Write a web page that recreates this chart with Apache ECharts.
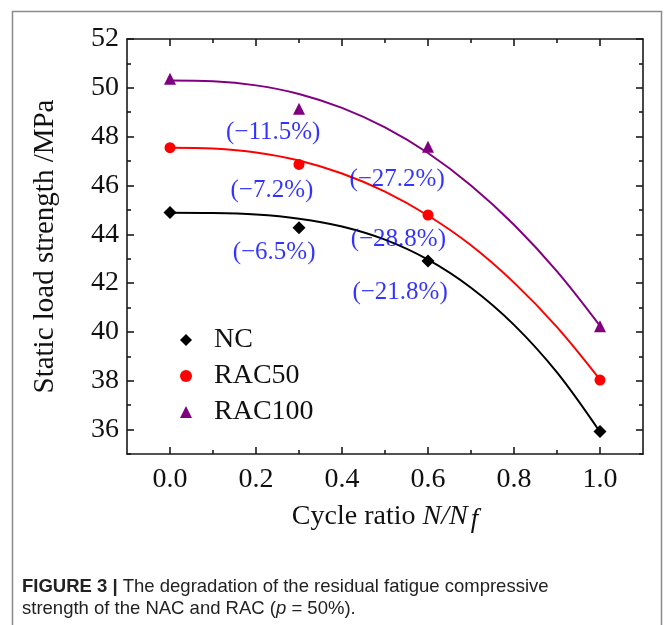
<!DOCTYPE html>
<html>
<head>
<meta charset="utf-8">
<script src="https://cdn.jsdelivr.net/npm/echarts@6/dist/echarts.min.js"></script>
<style>
html,body{margin:0;padding:0;background:#fff;}
#chart{width:665px;height:625px;}
</style>
</head>
<body>
<div id="chart"></div>
<script>
// ---- data ----
const seriesNames = ['NC', 'RAC50', 'RAC100'];
const pointX = [0, 0.3, 0.6, 1.0];
const ncPoints = [44.89, 44.27, 42.91, 35.92];
const rac50Points = [47.55, 46.86, 44.79, 38.03];
const rac100Points = [50.37, 49.14, 47.59, 40.23];

// fitted curves
const curveX = [0, 0.1, 0.2, 0.3, 0.4, 0.5, 0.6, 0.7, 0.8, 0.9, 1.0];
const ncCurve = [44.88, 44.87, 44.81, 44.64, 44.32, 43.78, 42.96, 41.81, 40.29, 38.34, 35.90];
const rac50Curve = [47.55, 47.51, 47.35, 47.02, 46.49, 45.75, 44.77, 43.55, 42.02, 40.20, 38.05];
const rac100Curve = [50.30, 50.27, 50.10, 49.75, 49.18, 48.38, 47.33, 46.00, 44.39, 42.48, 40.25];

// annotations
const annotText = ['(\u221211.5%)', '(\u22127.2%)', '(\u22126.5%)', '(\u221227.2%)', '(\u221228.8%)', '(\u221221.8%)'];
const annotX = [0.24, 0.237, 0.242, 0.528, 0.531, 0.535];
const annotY = [48.17, 45.80, 43.26, 46.25, 43.77, 41.62];

// ticks
const xTicks = [0, 0.2, 0.4, 0.6, 0.8, 1.0];
const xMinorTicks = [0.1, 0.3, 0.5, 0.7, 0.9];
const yTicks = [36, 38, 40, 42, 44, 46, 48, 50, 52];
const yMinorTicks = [35, 37, 39, 41, 43, 45, 47, 49, 51];

const xTitle = 'Cycle ratio ';
const yTitle = 'Static load strength /MPa';
const captionBold = 'FIGURE 3 |';
const captionRest1 = ' The degradation of the residual fatigue compressive';
const captionRest2a = 'strength of the NAC and RAC (';
const captionRest2b = ' = 50%).';

// ---- styles ----
const serif = 'Liberation Serif';
const colors = ['#000000', '#ff0000', '#800080'];
const symbols = ['diamond', 'circle', 'triangle'];
const symbolSizes = [13, 11, 12];
const axisColor = '#1a1a1a';

const chart = echarts.init(document.getElementById('chart'), null, {renderer: 'canvas'});

function xAxisDef(pos, ticks, len, showLabel, showLine) {
  return {
    type: 'value', position: pos, min: -0.1, max: 1.1,
    axisLine: {show: showLine, onZero: false, lineStyle: {color: axisColor, width: 1.6}},
    axisTick: {show: true, inside: true, length: len, customValues: ticks, lineStyle: {color: axisColor, width: 1.6}},
    axisLabel: showLabel ? {show: true, customValues: ticks, margin: 12, fontFamily: serif, fontSize: 28, color: '#111',
      formatter: v => v.toFixed(1)} : {show: false},
    splitLine: {show: false}
  };
}
function yAxisDef(pos, ticks, len, showLabel, showLine) {
  return {
    type: 'value', position: pos, min: 35, max: 52,
    axisLine: {show: showLine, onZero: false, lineStyle: {color: axisColor, width: 1.6}},
    axisTick: {show: true, inside: true, length: len, customValues: ticks, lineStyle: {color: axisColor, width: 1.6}},
    axisLabel: showLabel ? {show: true, customValues: ticks, margin: 8, fontFamily: serif, fontSize: 28, color: '#111'} : {show: false},
    splitLine: {show: false}
  };
}

const xAxes = [
  xAxisDef('bottom', xTicks, 7, true, true),
  xAxisDef('bottom', xMinorTicks, 4, false, false),
  xAxisDef('top', xTicks, 7, false, true),
  xAxisDef('top', xMinorTicks, 4, false, false)
];
xAxes[0].name = xTitle + '{i|N/N}{s|f}';
xAxes[0].nameLocation = 'middle';
xAxes[0].nameGap = 46;
xAxes[0].nameTextStyle = {fontFamily: serif, fontSize: 28, color: '#111',
  rich: {i: {fontFamily: serif, fontStyle: 'italic', fontSize: 28, color: '#111'},
         s: {fontFamily: serif, fontStyle: 'italic', fontSize: 27, color: '#111', padding: [6, 0, 0, 3]}}};

const yAxes = [
  yAxisDef('left', yTicks, 7, true, true),
  yAxisDef('left', yMinorTicks, 4, false, false),
  yAxisDef('right', yTicks, 7, false, true),
  yAxisDef('right', yMinorTicks, 4, false, false)
];
yAxes[0].name = yTitle;
yAxes[0].nameLocation = 'middle';
yAxes[0].nameGap = 67;
yAxes[0].nameTextStyle = {fontFamily: serif, fontSize: 29, color: '#111'};

const curves = [ncCurve, rac50Curve, rac100Curve];
const points = [ncPoints, rac50Points, rac100Points];

const series = [];
curves.forEach((c, i) => {
  series.push({
    name: seriesNames[i] + '_fit', type: 'line', smooth: 0.35, showSymbol: false, silent: true,
    data: curveX.map((x, k) => [x, c[k]]),
    lineStyle: {color: colors[i], width: 2}, z: 2
  });
});
points.forEach((p, i) => {
  series.push({
    name: seriesNames[i], type: 'scatter', symbol: symbols[i], symbolSize: symbolSizes[i],
    data: pointX.map((x, k) => [x, p[k]]),
    itemStyle: {color: colors[i], opacity: 1}, z: 3
  });
});
series.push({
  name: 'annot', type: 'scatter', symbol: 'circle', symbolSize: 1, silent: true,
  itemStyle: {color: 'rgba(0,0,0,0)'},
  data: annotX.map((x, k) => [x, annotY[k], annotText[k]]),
  label: {show: true, position: 'inside', formatter: p => p.data[2], fontFamily: serif, fontSize: 25, color: '#0000ff'},
  z: 4
});

const option = {
  backgroundColor: '#ffffff',
  animation: false,
  grid: {left: 127, top: 39, right: 22, bottom: 171, containLabel: false},
  xAxis: xAxes,
  yAxis: yAxes,
  legend: {
    orient: 'vertical', left: 175, top: 321,
    itemWidth: 12, itemHeight: 12, itemGap: 8,
    data: seriesNames.map((n, i) => ({name: n, icon: symbols[i]})),
    textStyle: {fontFamily: serif, fontSize: 28, color: '#111', lineHeight: 28, padding: [0, 0, 0, 17]}
  },
  title: {
    left: 17, top: 571,
    text: '{b|' + captionBold + '}{r|' + captionRest1 + '}\n{r|' + captionRest2a + '}{i|p}{r|' + captionRest2b + '}',
    textStyle: {
      fontWeight: 'normal',
      rich: {
        b: {fontFamily: 'Liberation Sans', fontWeight: 'bold', fontSize: 18.5, color: '#222', lineHeight: 22},
        r: {fontFamily: 'Liberation Sans', fontWeight: 'normal', fontSize: 18.5, color: '#222', lineHeight: 22},
        i: {fontFamily: 'Liberation Sans', fontWeight: 'normal', fontStyle: 'italic', fontSize: 18.5, color: '#222', lineHeight: 22}
      }
    }
  },
  graphic: [{
    type: 'polyline', silent: true,
    shape: {points: [[12.5, 626], [12.5, 11.5], [661.5, 11.5], [661.5, 626]]},
    style: {stroke: '#8a8a8a', lineWidth: 1.5, fill: null}
  }],
  series: series
};
series.forEach(s => { s.xAxisIndex = 0; s.yAxisIndex = 0; });
chart.setOption(option);
</script>
</body>
</html>
